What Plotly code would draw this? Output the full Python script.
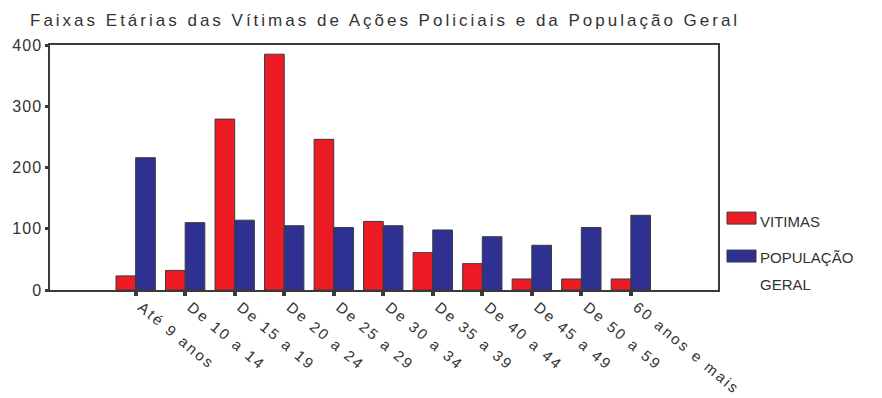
import plotly.graph_objects as go

# Age groups and counts
faixas = ["Até 9 anos", "De 10 a 14", "De 15 a 19", "De 20 a 24", "De 25 a 29",
          "De 30 a 34", "De 35 a 39", "De 40 a 44", "De 45 a 49", "De 50 a 59",
          "60 anos e mais"]
vitimas = [23, 32, 279, 385, 246, 112, 61, 43, 18, 18, 18]
populacao = [216, 110, 114, 105, 102, 105, 98, 87, 73, 102, 122]

W, H = 882, 398
L, R, T, B = 50, 718, 44.7, 290  # plot area in pixels

RED = "#ED1C24"
BLUE = "#2E3192"
EDGE = "#3a3a3a"
TXT = "#333333"
FONT = "Arial, Liberation Sans, sans-serif"


def px_x(p):
    return (p - L) / (R - L)


def px_y(p):
    return (B - p) / (B - T)


fig = go.Figure()
fig.add_bar(x=faixas, y=vitimas, name="VITIMAS", marker_color=RED,
            marker_line=dict(color=EDGE, width=1))
fig.add_bar(x=faixas, y=populacao, name="POPULAÇÃO GERAL", marker_color=BLUE,
            marker_line=dict(color=EDGE, width=1))

# Legend drawn as swatches and labels to the right of the plot
shapes = []
annotations = []
for (y0, y1, color) in [(212, 224, RED), (250, 262, BLUE)]:
    shapes.append(dict(type="rect", xref="paper", yref="paper",
                       x0=px_x(727), x1=px_x(756), y0=px_y(y1), y1=px_y(y0),
                       fillcolor=color, line=dict(color=EDGE, width=1)))
for text, yc in [("VITIMAS", 221), ("POPULAÇÃO", 257), ("GERAL", 284)]:
    annotations.append(dict(text=text, xref="paper", yref="paper",
                            x=px_x(758), y=px_y(yc), xanchor="left", yanchor="middle",
                            showarrow=False, font=dict(family=FONT, size=15, color=TXT)))

fig.update_layout(
    width=W, height=H, autosize=False,
    margin=dict(l=L, r=W - R, t=T, b=H - B, pad=0),
    paper_bgcolor="white", plot_bgcolor="white",
    barmode="group", bargap=0.206, bargroupgap=0,
    showlegend=False,
    font=dict(family=FONT, color=TXT),
    title=dict(text="Faixas Etárias das Vítimas de Ações Policiais e da População Geral",
               x=30 / W, xref="container", xanchor="left",
               y=1 - 20 / H, yref="container", yanchor="middle",
               font=dict(family=FONT, size=17, color=TXT)),
    shapes=shapes, annotations=annotations,
)

fig.update_xaxes(
    range=[-1.73, 11.76], tickangle=40, showgrid=False,
    showline=True, linecolor=EDGE, linewidth=1.5, mirror=True,
    ticks="outside", ticklen=4, tickwidth=4, tickcolor=EDGE,
    tickfont=dict(family=FONT, size=15, color=TXT),
)
fig.update_yaxes(
    range=[0, 400], tickvals=[0, 100, 200, 300, 400], showgrid=False, zeroline=False,
    showline=True, linecolor=EDGE, linewidth=1.5, mirror=True,
    ticks="outside", ticklen=3, tickwidth=3, tickcolor=EDGE,
    tickfont=dict(family=FONT, size=16, color=TXT),
)

# Widen character spacing to echo the spaced-out typography,
# and nudge the slanted category labels right/up off the tick marks
spacing_js = """
document.querySelectorAll('.gtitle').forEach(function(e){e.style.letterSpacing='3px';});
document.querySelectorAll('g.xtick text').forEach(function(e){e.style.letterSpacing='2.3px';});
document.querySelectorAll('g.xtick').forEach(function(g){g.setAttribute('transform','translate(6,-3)');});
document.querySelectorAll('g.ytick text').forEach(function(e){e.style.letterSpacing='1px';});
"""

fig.write_html("out.html", post_script=spacing_js)
